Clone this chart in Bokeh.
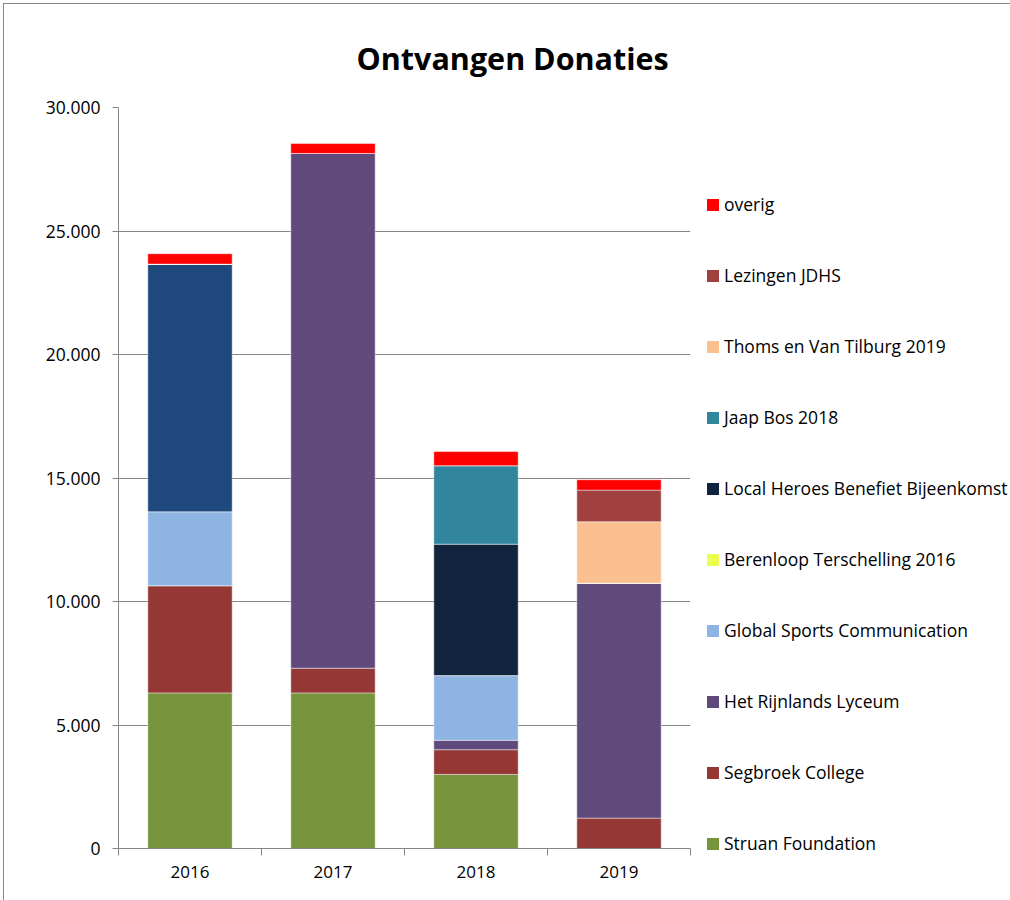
from bokeh.plotting import figure
from bokeh.models import (ColumnDataSource, FixedTicker, Legend, LegendItem, Range1d)
from bokeh.embed import file_html
from bokeh.resources import INLINE

years = ["2016", "2017", "2018", "2019"]
series = ["Struan Foundation", "Segbroek College", "Het Rijnlands Lyceum",
          "Global Sports Communication", "Berenloop Terschelling 2016",
          "Local Heroes Benefiet Bijeenkomst", "Jaap Bos 2018",
          "Thoms en Van Tilburg 2019", "Lezingen JDHS", "overig"]
struan = [6300, 6300, 3000, 0]
segbroek = [4340, 1000, 1000, 1230]
rijnlands = [0, 20840, 380, 9510]
gsc = [2990, 0, 2620, 0]
berenloop = [10030, 0, 0, 0]
local_heroes = [0, 0, 5320, 0]
jaap_bos = [0, 0, 3180, 0]
thoms = [0, 0, 0, 2490]
lezingen = [0, 0, 0, 1280]
overig = [420, 400, 570, 420]
values = [struan, segbroek, rijnlands, gsc, berenloop, local_heroes,
          jaap_bos, thoms, lezingen, overig]

bar_colors = ["#77933C", "#953735", "#604A7B", "#8EB4E3", "#1F497D",
              "#10243E", "#31859C", "#FAC090", "#A0413F", "#FF0000"]
legend_colors = ["#77933C", "#953735", "#604A7B", "#8EB4E3", "#EBFF50",
                 "#10243E", "#31859C", "#FAC090", "#A0413F", "#FF0000"]

y_ticks = [0, 5000, 10000, 15000, 20000, 25000, 30000]
y_tick_labels = ["0", "5.000", "10.000", "15.000", "20.000", "25.000", "30.000"]

FONT = "Open Sans"
GRAY = "#868686"

keys = ["s%d" % i for i in range(len(series))]
data = {"x": [i + 0.5 for i in range(len(years))]}
for k, v in zip(keys, values):
    data[k] = v
source = ColumnDataSource(data)

p = figure(frame_width=572, frame_height=741, output_backend="svg", toolbar_location=None,
           x_range=Range1d(0, len(years)), y_range=Range1d(0, 30000),
           min_border_left=114, min_border_right=0, min_border_top=103,
           min_border_bottom=52, title="Ontvangen Donaties")
p.styles = {"margin-left": "3px", "margin-top": "3px",
            "border-left": "1px solid #8a8a8a", "border-top": "1px solid #8a8a8a"}
p.outline_line_color = None
p.background_fill_color = "white"
p.border_fill_color = "white"

p.title.text_font = FONT
p.title.text_font_style = "bold"
p.title.text_font_size = "30.5px"
p.title.align = "left"
p.title.offset = 238
p.title.standoff = 58
p.title.text_color = "black"

p.vbar_stack(keys, x="x", width=0.59, source=source, color=bar_colors,
             line_color="white", line_alpha=0.45, line_width=1)

# y axis
p.yaxis.ticker = FixedTicker(ticks=y_ticks)
p.yaxis.major_label_overrides = {t: l for t, l in zip(y_ticks, y_tick_labels)}
p.yaxis.axis_line_color = GRAY
p.yaxis.major_tick_line_color = GRAY
p.yaxis.major_tick_out = 6
p.yaxis.major_tick_in = 0
p.yaxis.minor_tick_line_color = None
p.yaxis.major_label_text_font = FONT
p.yaxis.major_label_text_font_size = "17.5px"
p.yaxis.major_label_text_color = "black"
p.yaxis.major_label_standoff = 12
p.ygrid.grid_line_color = GRAY
p.ygrid.grid_line_width = 1

# x axis
p.xaxis.ticker = FixedTicker(ticks=[i + 0.5 for i in range(len(years))],
                             minor_ticks=list(range(len(years) + 1)))
p.xaxis.major_label_overrides = {i + 0.5: y for i, y in enumerate(years)}
p.xaxis.axis_line_color = GRAY
p.xaxis.major_tick_line_color = None
p.xaxis.minor_tick_line_color = GRAY
p.xaxis.minor_tick_out = 7
p.xaxis.minor_tick_in = 0
p.xaxis.major_label_text_font = FONT
p.xaxis.major_label_text_font_size = "17px"
p.xaxis.major_label_text_color = "black"
p.xaxis.major_label_standoff = 10
p.xgrid.grid_line_color = None

# legend with its own swatches (zero-size bars, only used for the legend)
items = []
for name, col in zip(series, legend_colors):
    r = p.vbar(x=[0.5], top=[0], bottom=[0], width=0, fill_color=col,
               line_color=None)
    items.append(LegendItem(label=name, renderers=[r]))
items = items[::-1]
legend = Legend(items=items, location=(15, -7), orientation="vertical",
                ncols=1,
                glyph_width=15, glyph_height=15, label_standoff=4,
                label_height=20, spacing=47, padding=0, margin=0,
                border_line_color=None, background_fill_alpha=0,
                label_text_font=FONT, label_text_font_size="17.5px",
                label_text_color="black")
p.add_layout(legend, "right")

open("out.html", "w").write(file_html(p, INLINE))
